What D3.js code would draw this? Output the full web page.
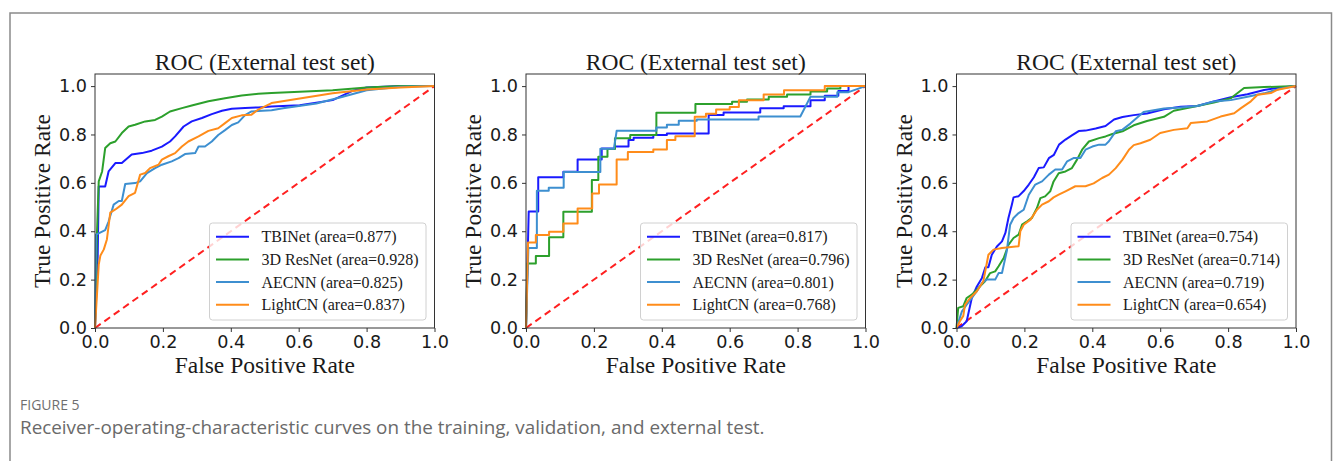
<!DOCTYPE html>
<html>
<head>
<meta charset="utf-8">
<script src="https://cdn.jsdelivr.net/npm/d3@7"></script>
<style>
  body { margin: 0; background: #fff; }
  svg { display: block; }
</style>
</head>
<body>
<svg id="chart" width="1335" height="461"></svg>
<script>
//-----------------------------------------------------//
// Data (FPR, TPR pairs)

const modelNames = ["TBINet", "3D ResNet", "AECNN", "LightCN"];
const modelColors = ["#1a1aff", "#2ca02c", "#3d8fd0", "#ff8c1a"];
const tickValues = [0, 0.2, 0.4, 0.6, 0.8, 1.0];
const panelTitles = ["ROC (External test set)", "ROC (External test set)", "ROC (External test set)"];

// area values shown in each legend
const areas1 = [0.877, 0.928, 0.825, 0.837];
const areas2 = [0.817, 0.796, 0.801, 0.768];
const areas3 = [0.754, 0.714, 0.719, 0.654];

// panel 1
const p1Tbinet = [[0,0],[0.008,0.30],[0.011,0.585],[0.03,0.585],[0.04,0.647],[0.06,0.682],[0.079,0.682],[0.108,0.717],[0.138,0.723],[0.167,0.733],[0.197,0.75],[0.221,0.771],[0.236,0.792],[0.261,0.833],[0.285,0.854],[0.315,0.868],[0.344,0.884],[0.374,0.898],[0.403,0.906],[0.442,0.909],[0.481,0.912],[0.52,0.916],[0.603,0.921],[0.70,0.942],[0.76,0.981],[0.80,0.994],[0.90,1.0],[1,1]];
const p1Resnet = [[0,0],[0.006,0.40],[0.011,0.606],[0.021,0.647],[0.030,0.744],[0.045,0.764],[0.060,0.771],[0.079,0.806],[0.099,0.833],[0.118,0.840],[0.148,0.854],[0.177,0.860],[0.197,0.874],[0.221,0.895],[0.256,0.909],[0.285,0.920],[0.334,0.937],[0.383,0.950],[0.432,0.961],[0.481,0.968],[0.52,0.971],[0.603,0.977],[0.70,0.983],[0.80,0.994],[0.90,1.0],[1,1]];
const p1Aecnn = [[0,0],[0.003,0.386],[0.030,0.405],[0.040,0.44],[0.055,0.51],[0.070,0.525],[0.079,0.525],[0.089,0.595],[0.118,0.599],[0.133,0.606],[0.153,0.640],[0.177,0.661],[0.197,0.675],[0.226,0.689],[0.246,0.702],[0.265,0.719],[0.295,0.723],[0.305,0.75],[0.324,0.75],[0.344,0.771],[0.363,0.798],[0.383,0.818],[0.403,0.839],[0.422,0.850],[0.442,0.88],[0.461,0.895],[0.52,0.90],[0.554,0.908],[0.652,0.928],[0.73,0.956],[0.80,0.983],[0.90,0.997],[1,1]];
const p1Lightcn = [[0,0],[0.011,0.262],[0.016,0.30],[0.026,0.325],[0.035,0.366],[0.045,0.477],[0.060,0.49],[0.079,0.51],[0.099,0.545],[0.118,0.559],[0.133,0.634],[0.148,0.641],[0.162,0.661],[0.187,0.675],[0.197,0.696],[0.216,0.71],[0.236,0.723],[0.256,0.75],[0.275,0.771],[0.305,0.792],[0.334,0.815],[0.363,0.826],[0.383,0.847],[0.403,0.868],[0.432,0.879],[0.461,0.882],[0.481,0.903],[0.52,0.93],[0.603,0.949],[0.70,0.97],[0.80,0.986],[0.90,0.994],[1,1]];

// panel 2 (step curves, small test set)
const p2Tbinet = [[0,0],[0.008,0.482],[0.036,0.482],[0.036,0.623],[0.11,0.623],[0.11,0.646],[0.152,0.646],[0.152,0.697],[0.223,0.697],[0.223,0.742],[0.262,0.742],[0.262,0.75],[0.302,0.75],[0.302,0.777],[0.317,0.777],[0.317,0.786],[0.375,0.786],[0.375,0.798],[0.415,0.798],[0.415,0.804],[0.538,0.804],[0.538,0.88],[0.582,0.88],[0.582,0.891],[0.69,0.891],[0.69,0.908],[0.759,0.908],[0.759,0.917],[0.838,0.917],[0.838,0.942],[0.88,0.942],[0.88,0.96],[0.92,0.96],[0.92,0.98],[0.95,0.98],[0.95,1.0],[1,1]];
const p2Resnet = [[0,0],[0.004,0.267],[0.029,0.267],[0.029,0.298],[0.068,0.298],[0.068,0.375],[0.11,0.375],[0.11,0.481],[0.194,0.481],[0.194,0.612],[0.213,0.612],[0.213,0.708],[0.24,0.708],[0.24,0.74],[0.262,0.74],[0.262,0.784],[0.307,0.784],[0.307,0.798],[0.384,0.798],[0.384,0.89],[0.499,0.89],[0.499,0.926],[0.607,0.926],[0.607,0.935],[0.651,0.935],[0.651,0.945],[0.715,0.945],[0.715,0.956],[0.769,0.956],[0.769,0.965],[0.838,0.965],[0.838,0.978],[0.887,0.978],[0.887,0.99],[0.926,0.99],[0.926,1],[1,1]];
const p2Aecnn = [[0,0],[0.007,0.331],[0.032,0.331],[0.032,0.567],[0.067,0.567],[0.067,0.58],[0.111,0.58],[0.111,0.645],[0.219,0.645],[0.219,0.741],[0.259,0.741],[0.267,0.815],[0.384,0.815],[0.384,0.829],[0.415,0.829],[0.415,0.84],[0.45,0.84],[0.45,0.857],[0.503,0.857],[0.503,0.862],[0.685,0.862],[0.685,0.874],[0.808,0.874],[0.838,0.956],[0.917,0.956],[0.917,0.975],[0.95,0.975],[1,1]];
const p2Lightcn = [[0,0],[0.006,0.353],[0.029,0.353],[0.029,0.384],[0.068,0.384],[0.068,0.398],[0.11,0.398],[0.11,0.432],[0.152,0.432],[0.152,0.494],[0.195,0.494],[0.195,0.556],[0.215,0.556],[0.215,0.593],[0.267,0.593],[0.267,0.697],[0.3,0.697],[0.3,0.728],[0.375,0.728],[0.375,0.738],[0.415,0.738],[0.415,0.777],[0.44,0.777],[0.44,0.793],[0.497,0.793],[0.497,0.873],[0.53,0.873],[0.53,0.886],[0.56,0.886],[0.56,0.903],[0.6,0.903],[0.6,0.914],[0.627,0.914],[0.627,0.942],[0.7,0.942],[0.7,0.965],[0.76,0.965],[0.76,0.983],[0.88,0.983],[0.88,1.0],[1,1]];

// panel 3
const p3Tbinet = [[0,0],[0.015,0.007],[0.03,0.028],[0.045,0.124],[0.06,0.172],[0.075,0.207],[0.085,0.251],[0.094,0.251],[0.104,0.303],[0.119,0.337],[0.134,0.358],[0.144,0.393],[0.153,0.455],[0.163,0.51],[0.168,0.54],[0.183,0.545],[0.198,0.566],[0.213,0.593],[0.228,0.623],[0.242,0.661],[0.257,0.664],[0.272,0.702],[0.287,0.716],[0.302,0.758],[0.321,0.779],[0.341,0.797],[0.36,0.814],[0.38,0.816],[0.41,0.825],[0.439,0.835],[0.464,0.862],[0.489,0.872],[0.522,0.88],[0.561,0.887],[0.611,0.904],[0.66,0.915],[0.709,0.918],[0.758,0.936],[0.808,0.954],[0.857,0.966],[0.906,0.984],[0.955,0.994],[1,1]];
const p3Resnet = [[0,0],[0.005,0.083],[0.02,0.09],[0.03,0.124],[0.045,0.138],[0.064,0.165],[0.084,0.193],[0.099,0.227],[0.114,0.234],[0.124,0.255],[0.139,0.289],[0.153,0.344],[0.168,0.372],[0.183,0.386],[0.193,0.427],[0.208,0.441],[0.222,0.455],[0.237,0.496],[0.247,0.537],[0.261,0.544],[0.276,0.565],[0.286,0.606],[0.301,0.64],[0.321,0.647],[0.34,0.661],[0.355,0.696],[0.37,0.737],[0.39,0.771],[0.42,0.785],[0.439,0.792],[0.459,0.802],[0.489,0.813],[0.522,0.838],[0.561,0.856],[0.611,0.873],[0.64,0.898],[0.709,0.918],[0.758,0.932],[0.808,0.95],[0.847,0.992],[0.906,0.996],[1,1]];
const p3Aecnn = [[0,0],[0.016,0.069],[0.03,0.096],[0.045,0.124],[0.06,0.152],[0.075,0.186],[0.089,0.2],[0.114,0.2],[0.124,0.227],[0.134,0.227],[0.148,0.317],[0.158,0.427],[0.168,0.455],[0.183,0.475],[0.198,0.489],[0.213,0.551],[0.232,0.593],[0.252,0.606],[0.272,0.634],[0.291,0.655],[0.311,0.655],[0.326,0.689],[0.346,0.703],[0.365,0.703],[0.38,0.737],[0.4,0.75],[0.42,0.758],[0.439,0.758],[0.449,0.772],[0.469,0.813],[0.489,0.82],[0.512,0.845],[0.551,0.893],[0.611,0.907],[0.66,0.912],[0.709,0.918],[0.758,0.936],[0.808,0.942],[0.857,0.956],[0.906,0.97],[0.955,0.99],[1,1]];
const p3Lightcn = [[0,0],[0.01,0.028],[0.02,0.05],[0.025,0.096],[0.04,0.124],[0.06,0.152],[0.079,0.193],[0.094,0.303],[0.109,0.324],[0.134,0.331],[0.183,0.338],[0.188,0.4],[0.198,0.427],[0.218,0.448],[0.237,0.489],[0.252,0.51],[0.272,0.524],[0.286,0.54],[0.301,0.551],[0.321,0.565],[0.35,0.586],[0.38,0.586],[0.404,0.598],[0.429,0.62],[0.449,0.634],[0.469,0.661],[0.489,0.696],[0.508,0.737],[0.522,0.756],[0.542,0.764],[0.571,0.778],[0.6,0.806],[0.64,0.819],[0.68,0.826],[0.69,0.847],[0.739,0.854],[0.778,0.874],[0.818,0.888],[0.838,0.909],[0.867,0.937],[0.887,0.964],[0.926,0.971],[0.946,0.985],[1,1]];

const chanceLine = [[0,0],[1,1]];

//-----------------------------------------------------//

// Layout constants (pixels)
const axesLefts = [95, 526, 956.5];
const axesWidth = 339.5;
const axesTop = 74;
const axesBottom = 328;
const serif = "'Liberation Serif', 'Times New Roman', serif";
const sans = "'DejaVu Sans', sans-serif";

let svg = d3.select("#chart");

// Build the panel table from the arrays above
const panels = [
  { title: panelTitles[0], areas: areas1, curves: [p1Tbinet, p1Resnet, p1Aecnn, p1Lightcn] },
  { title: panelTitles[1], areas: areas2, curves: [p2Tbinet, p2Resnet, p2Aecnn, p2Lightcn] },
  { title: panelTitles[2], areas: areas3, curves: [p3Tbinet, p3Resnet, p3Aecnn, p3Lightcn] }
];

// Outer figure frame (bottom edge runs off the page)
svg.append("rect")
  .attr("x", 10).attr("y", 13)
  .attr("width", 1321.5).attr("height", 470)
  .attr("fill", "none")
  .attr("stroke", "#8a8a8a")
  .attr("stroke-width", 1.5);

panels.forEach((panel, i) => drawPanel(panel, axesLefts[i]));

function drawPanel(panel, left)
{
  let x = d3.scaleLinear().domain([0, 1]).range([left, left + axesWidth]);
  let y = d3.scaleLinear().domain([0, 1.05]).range([axesBottom, axesTop]);
  let g = svg.append("g");

  // curves
  let line = d3.line().x(d => x(d[0])).y(d => y(d[1]));

  g.append("path")
    .datum(chanceLine)
    .attr("d", line)
    .attr("fill", "none")
    .attr("stroke", "#ff2020")
    .attr("stroke-width", 2)
    .attr("stroke-dasharray", "7,4.5");

  panel.curves.forEach((pts, k) => {
    g.append("path")
      .datum(pts)
      .attr("d", line)
      .attr("fill", "none")
      .attr("stroke", modelColors[k])
      .attr("stroke-width", 2)
      .attr("stroke-linejoin", "round");
  });

  // axes box
  g.append("rect")
    .attr("x", left).attr("y", axesTop)
    .attr("width", axesWidth).attr("height", axesBottom - axesTop)
    .attr("fill", "none")
    .attr("stroke", "#333")
    .attr("stroke-width", 1);

  let fmt = d3.format(".1f");

  let xAxis = g.append("g")
    .attr("transform", `translate(0,${axesBottom})`)
    .call(d3.axisBottom(x).tickValues(tickValues).tickFormat(fmt).tickSize(4).tickPadding(4));
  let yAxis = g.append("g")
    .attr("transform", `translate(${left},0)`)
    .call(d3.axisLeft(y).tickValues(tickValues).tickFormat(fmt).tickSize(4).tickPadding(4));

  [xAxis, yAxis].forEach(a => {
    a.select(".domain").remove();
    a.selectAll("line").attr("stroke", "#333");
    a.selectAll("text")
      .attr("fill", "#1a1a1a")
      .style("font-family", sans)
      .style("font-size", "17.6px");
  });

  // title and axis labels
  g.append("text")
    .attr("x", left + axesWidth / 2).attr("y", 70)
    .attr("text-anchor", "middle")
    .style("font-family", serif).style("font-size", "23.5px")
    .attr("fill", "#1a1a1a")
    .text(panel.title);

  g.append("text")
    .attr("x", left + axesWidth / 2).attr("y", 373)
    .attr("text-anchor", "middle")
    .style("font-family", serif).style("font-size", "23.5px")
    .attr("fill", "#1a1a1a")
    .text("False Positive Rate");

  g.append("text")
    .attr("transform", `translate(${left - 45},${(axesTop + axesBottom) / 2}) rotate(-90)`)
    .attr("text-anchor", "middle")
    .style("font-family", serif).style("font-size", "23.5px")
    .attr("fill", "#1a1a1a")
    .text("True Positive Rate");

  // legend, lower right corner
  let boxW = 216.5, boxH = 97;
  let bx = left + axesWidth - 8.5 - boxW;
  let by = axesBottom - 8 - boxH;
  let legend = g.append("g").attr("transform", `translate(${bx},${by})`);

  legend.append("rect")
    .attr("width", boxW).attr("height", boxH)
    .attr("rx", 3)
    .attr("fill", "#fff").attr("fill-opacity", 0.8)
    .attr("stroke", "#d0d0d0").attr("stroke-width", 1);

  modelNames.forEach((name, k) => {
    let ry = 13.7 + k * 22.7;
    legend.append("line")
      .attr("x1", 6.5).attr("x2", 39.5)
      .attr("y1", ry).attr("y2", ry)
      .attr("stroke", modelColors[k])
      .attr("stroke-width", 2);
    legend.append("text")
      .attr("x", 52).attr("y", ry + 5.5)
      .style("font-family", serif).style("font-size", "16px")
      .attr("fill", "#1a1a1a")
      .text(`${name} (area=${panel.areas[k].toFixed(3)})`);
  });
}

// Figure caption
svg.append("text")
  .attr("x", 20).attr("y", 410)
  .style("font-family", "'Open Sans', 'Noto Sans', sans-serif")
  .style("font-size", "14px")
  .attr("fill", "#6f6f6f")
  .text("FIGURE 5");

let caption = svg.append("text")
  .attr("x", 20).attr("y", 434)
  .style("font-family", "'Open Sans', 'Noto Sans', sans-serif")
  .style("font-size", "16px")
  .attr("fill", "#6a6a6a")
  .text("Receiver-operating-characteristic curves on the training, validation, and external test.");

// fit caption to the width seen in the figure (about 745px)
let capLen = caption.node().getComputedTextLength();
caption.style("font-size", (16 * 745 / capLen).toFixed(2) + "px");
</script>
</body>
</html>
